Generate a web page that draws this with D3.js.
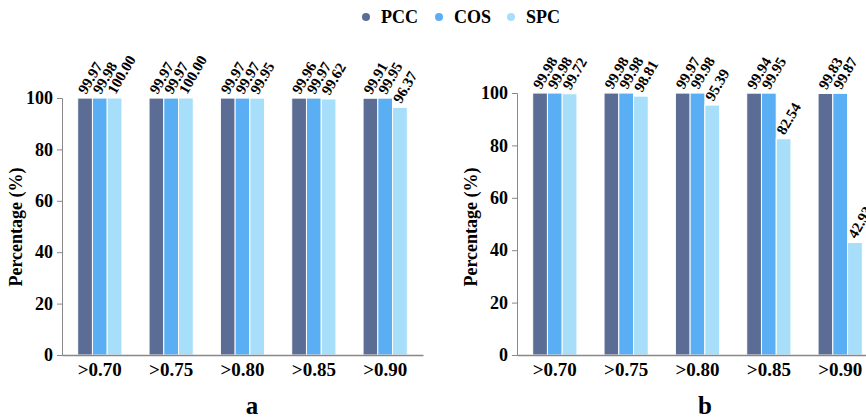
<!DOCTYPE html>
<html>
<head>
<meta charset="utf-8">
<script src="https://cdn.jsdelivr.net/npm/d3@7/dist/d3.min.js"></script>
<style>
  body { margin: 0; background: #fff; }
  svg { display: block; }
</style>
</head>
<body>
<div id="chart"></div>
<script>
// data
const categories = ['>0.70', '>0.75', '>0.80', '>0.85', '>0.90'];
const seriesNames = ['PCC', 'COS', 'SPC'];
const colors = ['#5b6d94', '#5aaef4', '#a7dffa'];
const yTicks = [0, 20, 40, 60, 80, 100];

const pccA = [99.97, 99.97, 99.97, 99.96, 99.91];
const cosA = [99.98, 99.97, 99.97, 99.97, 99.95];
const spcA = [100.00, 100.00, 99.95, 99.62, 96.37];

const pccB = [99.98, 99.98, 99.97, 99.94, 99.83];
const cosB = [99.98, 99.98, 99.98, 99.95, 99.87];
const spcB = [99.72, 98.81, 95.39, 82.54, 42.93];

const width = 866, height = 419;
const serif = "'Liberation Serif', 'Times New Roman', Times, serif";

const svg = d3.select('#chart')
    .append('svg')
    .attr('width', width)
    .attr('height', height)
    .style('font-family', serif)
    .style('font-weight', 'bold');

// legend
const legendPos = [366, 439, 511];
seriesNames.forEach((name, i) => {
    svg.append('circle')
        .attr('cx', legendPos[i])
        .attr('cy', 17)
        .attr('r', 4)
        .style('fill', colors[i]);
    svg.append('text')
        .attr('x', legendPos[i] + 15)
        .attr('y', 23)
        .style('font-family', serif)
        .style('font-size', '18px')
        .text(name);
});

function drawPanel(opts) {
    const g = svg.append('g');
    const rows = [opts.pcc, opts.cos, opts.spc];

    const x0 = d3.scaleBand()
        .domain(categories)
        .range([opts.left, opts.right])
        .paddingInner(0.38)
        .paddingOuter(0.22);

    const x1 = d3.scaleBand()
        .domain(seriesNames)
        .range([0, x0.bandwidth()]);

    const y = d3.scaleLinear()
        .domain([0, 100])
        .range([355, opts.top]);

    // bars
    categories.forEach((cat, ci) => {
        seriesNames.forEach((s, si) => {
            const v = rows[si][ci];
            const bx = x0(cat) + x1(s);
            g.append('rect')
                .attr('x', bx)
                .attr('y', y(v))
                .attr('width', x1.bandwidth())
                .attr('height', y(0) - y(v))
                .style('fill', colors[si])
                .style('stroke', '#fff')
                .style('stroke-width', 1);
            g.append('text')
                .attr('transform', `translate(${bx + x1.bandwidth() / 2 + 1},${y(v) - 3}) rotate(-60)`)
                .style('font-family', serif)
                .style('font-size', '15px')
                .text(v.toFixed(2));
        });
    });

    // y axis
    const yAxis = g.append('g')
        .attr('transform', `translate(${opts.left},0)`)
        .call(d3.axisLeft(y).tickValues(yTicks).tickSize(5).tickPadding(4));
    yAxis.attr('font-family', null);
    yAxis.selectAll('text').style('font-family', serif).style('font-size', '18px').style('fill', '#000');
    yAxis.selectAll('line').style('stroke', '#888');
    yAxis.select('.domain').style('stroke', '#888');

    // x axis
    const xAxis = g.append('g')
        .attr('transform', 'translate(0,355)')
        .call(d3.axisBottom(x0).tickSize(0).tickPadding(8));
    xAxis.attr('font-family', null);
    xAxis.selectAll('text').style('font-family', serif).style('font-size', '19px').style('fill', '#000');
    xAxis.select('.domain').style('stroke', '#888').style('stroke-width', 1.5);

    // y title
    g.append('text')
        .attr('transform', `translate(${opts.titleX},227) rotate(-90)`)
        .attr('text-anchor', 'middle')
        .style('font-family', serif)
        .style('font-size', '18px')
        .text('Percentage (%)');

    // panel letter
    g.append('text')
        .attr('x', opts.letterX)
        .attr('y', 414)
        .attr('text-anchor', 'middle')
        .style('font-family', serif)
        .style('font-size', '25px')
        .text(opts.letter);
}

drawPanel({ pcc: pccA, cos: cosA, spc: spcA, left: 62, right: 423, top: 98, titleX: 22, letterX: 252, letter: 'a' });
drawPanel({ pcc: pccB, cos: cosB, spc: spcB, left: 517, right: 878, top: 93, titleX: 477, letterX: 705, letter: 'b' });
</script>
</body>
</html>
